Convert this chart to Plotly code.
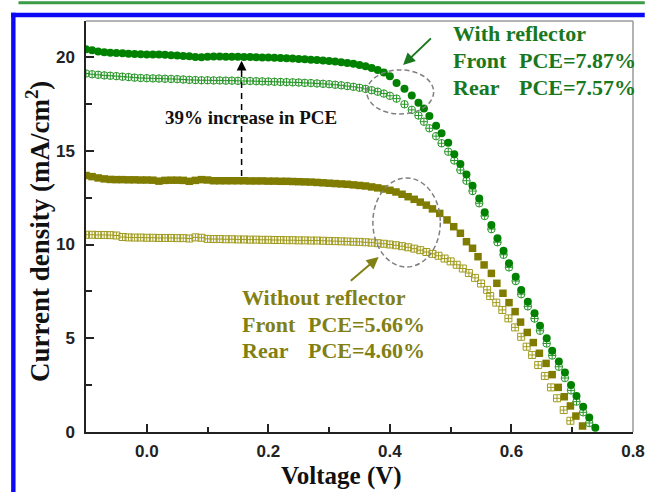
import plotly.graph_objects as go

# ---------------- data ----------------
v_flat = [-0.10, -0.09, -0.08, -0.07, -0.06, -0.05, -0.04, -0.03, -0.02, -0.01,
          0.00, 0.01, 0.02, 0.03, 0.04, 0.05, 0.06, 0.07, 0.08, 0.09,
          0.10, 0.11, 0.12, 0.13, 0.14, 0.15, 0.16, 0.17, 0.18, 0.19,
          0.20, 0.21, 0.22, 0.23, 0.24, 0.25, 0.26, 0.27, 0.28, 0.29,
          0.30, 0.31, 0.32, 0.33, 0.34, 0.35, 0.36, 0.37, 0.38, 0.39, 0.40]

# With reflector - Front (filled circles)
v_ref_front = v_flat + [0.411, 0.424, 0.436, 0.447, 0.456, 0.465, 0.476, 0.485, 0.496, 0.506,
                        0.516, 0.526, 0.536, 0.547, 0.556, 0.567, 0.577, 0.587, 0.596, 0.607,
                        0.616, 0.627, 0.638, 0.647, 0.658, 0.667, 0.678, 0.688, 0.698, 0.707,
                        0.718, 0.728, 0.738]
j_ref_front = [20.42, 20.36, 20.30, 20.26, 20.23, 20.21, 20.20, 20.18, 20.16, 20.15,
               20.14, 20.13, 20.13, 20.12, 20.10, 20.08, 20.06, 20.04, 20.00, 19.99,
               20.02, 20.03, 20.03, 20.02, 20.02, 20.01, 20.00, 20.00, 19.99, 19.98,
               19.97, 19.96, 19.95, 19.94, 19.92, 19.90, 19.88, 19.86, 19.84, 19.81,
               19.79, 19.76, 19.72, 19.68, 19.64, 19.58, 19.51, 19.42, 19.31, 19.17, 18.98,
               18.62, 18.31, 17.95, 17.56, 17.26, 16.85, 16.34, 15.93, 15.43, 14.81,
               14.29, 13.74, 13.14, 12.46, 11.72, 11.04, 10.33, 9.67, 9.00, 8.28,
               7.57, 6.95, 6.33, 5.67, 5.00, 4.34, 3.76, 3.17, 2.51, 1.92,
               1.35, 0.78, 0.23]

# With reflector - Rear (open crossed circles)
v_ref_rear = v_flat + [0.411, 0.424, 0.436, 0.447, 0.456, 0.465, 0.476, 0.485, 0.496, 0.506,
                       0.516, 0.526, 0.536, 0.547, 0.556, 0.567, 0.577, 0.587, 0.596, 0.607,
                       0.616, 0.627, 0.638, 0.647, 0.658, 0.667, 0.678, 0.688, 0.698, 0.707,
                       0.718, 0.728]
j_ref_rear = [19.12, 19.08, 19.05, 19.02, 19.00, 18.98, 18.95, 18.93, 18.90, 18.88,
              18.87, 18.86, 18.85, 18.84, 18.83, 18.82, 18.80, 18.78, 18.77, 18.76,
              18.76, 18.75, 18.75, 18.74, 18.74, 18.73, 18.72, 18.72, 18.71, 18.70,
              18.69, 18.68, 18.67, 18.66, 18.65, 18.64, 18.62, 18.61, 18.59, 18.57,
              18.55, 18.52, 18.49, 18.45, 18.41, 18.36, 18.30, 18.23, 18.15, 18.05, 17.93,
              17.78, 17.48, 17.18, 16.88, 16.55, 16.20, 15.78, 15.40, 14.95, 14.48,
              13.97, 13.40, 12.85, 12.20, 11.52, 10.82, 10.12, 9.45, 8.78, 8.05,
              7.35, 6.70, 6.05, 5.40, 4.72, 4.08, 3.48, 2.88, 2.22, 1.62,
              1.05, 0.48]

# Without reflector - Front (filled squares)
v_noref_front = v_flat + [0.41, 0.42, 0.43, 0.44, 0.45, 0.46, 0.47, 0.482, 0.494, 0.505,
                          0.516, 0.526, 0.536, 0.545, 0.555, 0.567, 0.576, 0.586, 0.596, 0.606,
                          0.615, 0.626, 0.636, 0.646, 0.657, 0.667, 0.677, 0.687, 0.697, 0.706,
                          0.717]
j_noref_front = [13.68, 13.62, 13.55, 13.50, 13.47, 13.46, 13.46, 13.45, 13.45, 13.44,
                 13.44, 13.43, 13.38, 13.42, 13.43, 13.43, 13.42, 13.37, 13.42, 13.46,
                 13.44, 13.40, 13.40, 13.40, 13.40, 13.40, 13.40, 13.39, 13.39, 13.39,
                 13.38, 13.38, 13.37, 13.37, 13.36, 13.35, 13.34, 13.33, 13.31, 13.29,
                 13.27, 13.25, 13.23, 13.21, 13.18, 13.15, 13.12, 13.07, 13.02, 12.96, 12.89,
                 12.80, 12.68, 12.55, 12.41, 12.26, 12.10, 11.90, 11.66, 11.31, 10.95,
                 10.60, 10.15, 9.80, 9.35, 8.91, 8.46, 7.93, 7.40, 6.90, 6.42,
                 5.86, 5.31, 4.77, 4.20, 3.66, 3.06, 2.38, 1.88, 1.39, 0.85,
                 0.32]

# Without reflector - Rear (open crossed squares)
v_noref_rear = v_flat + [0.41, 0.42, 0.43, 0.44, 0.45, 0.46, 0.47, 0.48, 0.49, 0.50,
                         0.51, 0.52, 0.53, 0.54, 0.55, 0.56, 0.565, 0.575, 0.585, 0.595,
                         0.606, 0.616, 0.625, 0.634, 0.644, 0.655, 0.665, 0.675, 0.686, 0.697]
j_noref_rear = [10.52, 10.52, 10.51, 10.51, 10.50, 10.48, 10.40, 10.38, 10.37, 10.37,
                10.36, 10.36, 10.35, 10.35, 10.35, 10.34, 10.34, 10.32, 10.38, 10.36,
                10.30, 10.29, 10.29, 10.28, 10.28, 10.27, 10.27, 10.26, 10.26, 10.25,
                10.25, 10.24, 10.24, 10.23, 10.23, 10.22, 10.22, 10.21, 10.21, 10.20,
                10.19, 10.18, 10.17, 10.16, 10.15, 10.14, 10.12, 10.10, 10.07, 10.04, 10.00,
                9.96, 9.91, 9.85, 9.78, 9.70, 9.60, 9.50, 9.40, 9.25, 9.10,
                8.92, 8.72, 8.48, 8.22, 7.92, 7.58, 7.25, 6.90, 6.51, 6.06,
                5.58, 5.08, 4.55, 4.11, 3.57, 2.99, 2.38, 1.80, 1.17, 0.60]

x_ticks = [0.0, 0.2, 0.4, 0.6, 0.8]
y_ticks = [0, 5, 10, 15, 20]

# ---------------- styling ----------------
GREEN = "rgb(0,130,0)"
GREEN_L = "rgb(40,150,40)"
OLIVE = "rgb(128,124,0)"
OLIVE_L = "rgb(160,155,30)"
TXT_GREEN = "rgb(25,120,30)"
TXT_OLIVE = "rgb(130,128,20)"
SERIF = "Liberation Serif"
SANS = "Liberation Sans"

W, H = 657, 492
ML, MR, MT, MB = 86, 12, 21, 60
PW, PH = W - ML - MR, H - MT - MB


def px(x):
    return (x - ML) / PW


def py(y):
    return (H - MB - y) / PH


fig = go.Figure()

fig.add_trace(go.Scatter(x=v_noref_rear, y=j_noref_rear, mode="markers",
                         marker=dict(symbol="square-cross-open", size=7, color=OLIVE_L,
                                     line=dict(width=1, color=OLIVE_L))))
fig.add_trace(go.Scatter(x=v_noref_front, y=j_noref_front, mode="markers",
                         marker=dict(symbol="square", size=7.5, color=OLIVE,
                                     line=dict(width=0))))
fig.add_trace(go.Scatter(x=v_ref_rear, y=j_ref_rear, mode="markers",
                         marker=dict(symbol="circle-cross-open", size=7.5, color=GREEN_L,
                                     line=dict(width=1, color=GREEN_L))))
fig.add_trace(go.Scatter(x=v_ref_front, y=j_ref_front, mode="markers",
                         marker=dict(symbol="circle", size=8, color=GREEN,
                                     line=dict(width=0))))

shapes = []
# outer page decorations
shapes.append(dict(type="line", xref="paper", yref="paper", x0=px(17), x1=px(657),
                   y0=py(2.7), y1=py(2.7), line=dict(color="rgb(60,155,70)", width=3)))
shapes.append(dict(type="rect", xref="paper", yref="paper", x0=px(9.5), x1=px(14),
                   y0=py(12.7), y1=py(492), fillcolor="rgb(10,10,245)", line=dict(width=0)))
shapes.append(dict(type="rect", xref="paper", yref="paper", x0=px(9.5), x1=px(657),
                   y0=py(12.7), y1=py(17.3), fillcolor="rgb(10,10,245)", line=dict(width=0)))
# gray top/right frame
shapes.append(dict(type="line", xref="paper", yref="paper", x0=0, x1=1, y0=1, y1=1,
                   line=dict(color="#9a9a9a", width=1.5)))
shapes.append(dict(type="line", xref="paper", yref="paper", x0=1, x1=1, y0=0, y1=1,
                   line=dict(color="#9a9a9a", width=1.5)))
# dashed ellipses
shapes.append(dict(type="circle", xref="x", yref="y", x0=0.362, x1=0.472, y0=16.96, y1=19.31,
                   line=dict(color="#808080", width=1.5, dash="5px,3px")))
shapes.append(dict(type="circle", xref="x", yref="y", x0=0.372, x1=0.483, y0=8.8, y1=13.55,
                   line=dict(color="#808080", width=1.5, dash="5px,3px")))
# dashed line of the 39% arrow
shapes.append(dict(type="line", xref="x", yref="y", x0=0.156, x1=0.156, y0=13.65, y1=19.2,
                   line=dict(color="black", width=1.5, dash="6px,5px")))

ann = []
# 39% arrow head
ann.append(dict(x=0.156, y=19.8, ax=0.156, ay=19.1, xref="x", yref="y", axref="x", ayref="y",
                text="", showarrow=True, arrowhead=2, arrowsize=1.3, arrowwidth=1.5,
                arrowcolor="black"))
ann.append(dict(x=0.1722, y=16.8, xref="x", yref="y", text="39% increase in PCE",
                showarrow=False, font=dict(family=SERIF, size=19, color="#111", weight="bold")))
# green arrow
ann.append(dict(x=0.4217, y=19.57, ax=0.470, ay=21.07, xref="x", yref="y", axref="x", ayref="y",
                text="", showarrow=True, arrowhead=2, arrowsize=1.2, arrowwidth=2,
                arrowcolor=TXT_GREEN))
# olive arrow
ann.append(dict(x=0.3815, y=9.33, ax=0.3332, ay=8.0, xref="x", yref="y", axref="x", ayref="y",
                text="", showarrow=True, arrowhead=2, arrowsize=1.2, arrowwidth=2,
                arrowcolor=TXT_OLIVE))


def label(x, y, text, color):
    ann.append(dict(x=x, y=y, xref="x", yref="y", text=text, showarrow=False,
                    xanchor="left", yanchor="middle",
                    font=dict(family=SERIF, size=22, color=color, weight="bold")))


label(0.5006, 21.28, "With reflector", TXT_GREEN)
label(0.5006, 19.84, "Front", TXT_GREEN)
label(0.6086, 19.84, "PCE=7.87%", TXT_GREEN)
label(0.5006, 18.40, "Rear", TXT_GREEN)
label(0.6086, 18.40, "PCE=7.57%", TXT_GREEN)
label(0.1528, 7.20, "Without reflector", TXT_OLIVE)
label(0.1528, 5.76, "Front", TXT_OLIVE)
label(0.2620, 5.76, "PCE=5.66%", TXT_OLIVE)
label(0.1528, 4.34, "Rear", TXT_OLIVE)
label(0.2620, 4.34, "PCE=4.60%", TXT_OLIVE)

# axis titles
ann.append(dict(x=px(347), y=py(476), xref="paper", yref="paper", text="Voltage (V)",
                showarrow=False, xanchor="center", yanchor="middle",
                font=dict(family=SERIF, size=25, color="#111", weight="bold")))
ann.append(dict(x=px(37), y=py(232), xref="paper", yref="paper",
                text="Current density (mA/cm<sup>2</sup>)", textangle=-90,
                showarrow=False, xanchor="center", yanchor="middle",
                font=dict(family=SERIF, size=27, color="#111", weight="bold")))

fig.update_layout(
    width=W, height=H,
    margin=dict(l=ML, r=MR, t=MT, b=MB, pad=0),
    paper_bgcolor="white", plot_bgcolor="white",
    showlegend=False,
    shapes=shapes, annotations=ann,
    xaxis=dict(range=[-0.1, 0.8], tickvals=x_ticks, ticktext=[f"{v:.1f}" for v in x_ticks],
               ticks="inside", ticklen=8, tickwidth=1.5, tickcolor="#222",
               minor=dict(tickvals=[-0.1, 0.1, 0.3, 0.5, 0.7], ticks="inside", ticklen=5,
                          tickwidth=1.5, tickcolor="#222"),
               showline=True, linecolor="#222", linewidth=1.5,
               showgrid=False, zeroline=False, ticklabelstandoff=3,
               tickfont=dict(family=SANS, size=17, color="#222", weight="bold")),
    yaxis=dict(range=[0, 21.92], tickvals=y_ticks,
               ticks="inside", ticklen=8, tickwidth=1.5, tickcolor="#222",
               minor=dict(tickvals=[2.5, 7.5, 12.5, 17.5], ticks="inside", ticklen=6,
                          tickwidth=1.5, tickcolor="#222"),
               showline=True, linecolor="#222", linewidth=1.5,
               showgrid=False, zeroline=False, ticklabelstandoff=6,
               tickfont=dict(family=SANS, size=17, color="#222", weight="bold")),
)

fig.write_html("out.html", config={"displayModeBar": False},
               post_script="document.body.style.margin='0';document.body.style.overflow='hidden';")
